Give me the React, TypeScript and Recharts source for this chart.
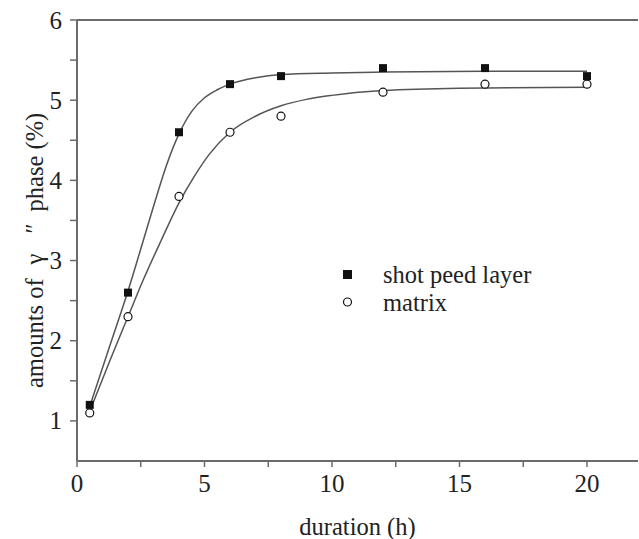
import React from 'react';
import { ComposedChart, Line, Scatter, XAxis, YAxis, ReferenceLine } from 'recharts';

// measured points
const shotX = [0.5, 2, 4, 6, 8, 12, 16, 20];
const shotY = [1.2, 2.6, 4.6, 5.2, 5.3, 5.4, 5.4, 5.3];
const matrixX = [0.5, 2, 4, 6, 8, 12, 16, 20];
const matrixY = [1.1, 2.3, 3.8, 4.6, 4.8, 5.1, 5.2, 5.2];

// fitted curves
const fitShotX = [0.5, 1.3, 2, 2.6, 3.1, 3.5, 4, 4.5, 5, 5.5, 6, 7, 8, 10, 12, 16, 20];
const fitShotY = [1.18, 1.95, 2.62, 3.25, 3.78, 4.18, 4.58, 4.86, 5.03, 5.13, 5.2, 5.28, 5.32, 5.34, 5.35, 5.36, 5.36];
const fitMatrixX = [0.5, 1.3, 2, 2.6, 3.3, 4, 4.6, 5.2, 6, 7, 8, 9, 10, 12, 15, 20];
const fitMatrixY = [1.12, 1.76, 2.3, 2.76, 3.25, 3.72, 4.05, 4.33, 4.6, 4.8, 4.93, 5.01, 5.06, 5.12, 5.15, 5.16];

const xTicks = [0, 2.5, 5, 7.5, 10, 12.5, 15, 17.5, 20];
const xLabels = [0, 5, 10, 15, 20];
const yTicks = [1, 1.5, 2, 2.5, 3, 3.5, 4, 4.5, 5, 5.5, 6];
const yLabels = [1, 2, 3, 4, 5, 6];

const seriesNames = ['shot peed layer', 'matrix'];
const xTitle = 'duration (h)';
const yTitleParts = ['amounts of', 'γ', '″', 'phase (%)'];

const FONT = '"Liberation Serif", "Times New Roman", serif';
const AXIS = '#6b6b6b';
const MARK = '#111';
const CURVE = '#555555';
const TXT = { fontFamily: FONT, fontSize: 25, fill: '#222' } as const;

const zip = (xs: number[], ys: number[]) => xs.map((x, i) => ({ x, y: ys[i] }));
const shotData = zip(shotX, shotY);
const matrixData = zip(matrixX, matrixY);
const fitShotData = zip(fitShotX, fitShotY);
const fitMatrixData = zip(fitMatrixX, fitMatrixY);

const XTick = (props: any) => {
  const { x, y, payload } = props;
  const major = xLabels.includes(payload.value);
  return (
    <g>
      <line x1={x} x2={x} y1={y} y2={y + 6} stroke={AXIS} strokeWidth={1.5} />
      {major && (
        <text x={x} y={y + 31} textAnchor="middle" style={TXT}>
          {payload.value}
        </text>
      )}
    </g>
  );
};

const YTick = (props: any) => {
  const { x, y, payload } = props;
  const major = yLabels.includes(payload.value);
  return (
    <g>
      <line x1={x - 7} x2={x} y1={y} y2={y} stroke={AXIS} strokeWidth={1.5} />
      {major && (
        <text x={x - 15} y={y + 8.5} textAnchor="end" style={TXT}>
          {payload.value}
        </text>
      )}
    </g>
  );
};

const SquareShape = (props: any) => {
  const { cx, cy } = props;
  return <rect x={cx - 4} y={cy - 4} width={8} height={8} fill={MARK} />;
};
const CircleShape = (props: any) => {
  const { cx, cy } = props;
  return <circle cx={cx} cy={cy} r={4} fill="#fff" stroke={MARK} strokeWidth={1.2} />;
};

const LegendBox = () => (
  <svg width={260} height={70} style={{ position: 'absolute', left: 330, top: 255 }}>
    <rect x={13} y={15} width={9} height={9} fill={MARK} />
    <text x={53} y={28} style={{ ...TXT, fontSize: 24.5 }}>{seriesNames[0]}</text>
    <circle cx={17.5} cy={47} r={4} fill="#fff" stroke={MARK} strokeWidth={1.2} />
    <text x={53} y={56} style={{ ...TXT, fontSize: 24.5 }}>{seriesNames[1]}</text>
  </svg>
);

const XLabel = (props: any) => {
  const { viewBox } = props;
  return (
    <text x={viewBox.x + viewBox.width / 2} y={535} textAnchor="middle" style={{ ...TXT, fontSize: 24.5 }}>
      {xTitle}
    </text>
  );
};

const YLabel = () => (
  <text x={43} y={388} transform="rotate(-90, 43, 388)" textAnchor="start" style={{ ...TXT, fontSize: 24.5 }}>
    <tspan>{yTitleParts[0]}</tspan>
    <tspan dx={14}>{yTitleParts[1]}</tspan>
    <tspan dx={20}>{yTitleParts[2]}</tspan>
    <tspan dx={12}>{yTitleParts[3]}</tspan>
  </text>
);

export default function App() {
  return (
    <div style={{ position: 'absolute', left: 0, top: 0, width: 639, height: 539, background: '#fff' }}>
      <ComposedChart width={639} height={539} margin={{ top: 20, right: 1, bottom: 0, left: 27 }}>
        <XAxis
          type="number"
          dataKey="x"
          domain={[0, 22]}
          ticks={xTicks}
          interval={0}
          allowDataOverflow
          height={78}
          axisLine={{ stroke: AXIS, strokeWidth: 2 }}
          tickLine={false}
          tickSize={0}
          tickMargin={0}
          tick={<XTick />}
          label={<XLabel />}
        />
        <YAxis
          type="number"
          dataKey="y"
          domain={[0.5, 6]}
          ticks={yTicks}
          interval={0}
          allowDataOverflow
          width={50}
          axisLine={{ stroke: AXIS, strokeWidth: 2 }}
          tickLine={false}
          tickSize={0}
          tickMargin={0}
          tick={<YTick />}
          label={<YLabel />}
        />
        <ReferenceLine y={6} stroke={AXIS} strokeWidth={2} />
        <Line data={fitShotData} dataKey="y" type="monotone" stroke={CURVE} strokeWidth={1.5} dot={false} isAnimationActive={false} legendType="none" />
        <Line data={fitMatrixData} dataKey="y" type="monotone" stroke={CURVE} strokeWidth={1.5} dot={false} isAnimationActive={false} legendType="none" />
        <Scatter data={shotData} dataKey="y" name={seriesNames[0]} shape={<SquareShape />} isAnimationActive={false} />
        <Scatter data={matrixData} dataKey="y" name={seriesNames[1]} shape={<CircleShape />} isAnimationActive={false} />
      </ComposedChart>
      <LegendBox />
    </div>
  );
}
